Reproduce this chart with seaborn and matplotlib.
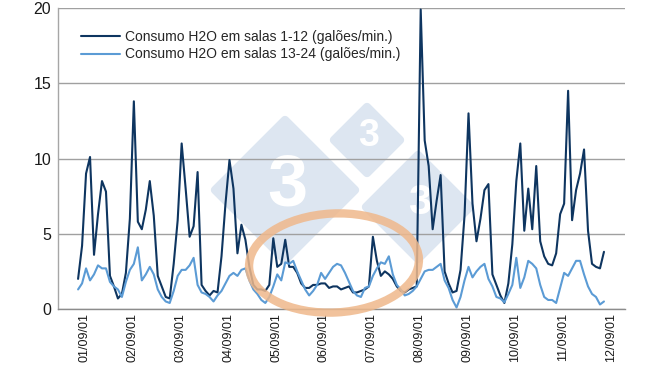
import matplotlib
matplotlib.use('Agg')
import matplotlib.pyplot as plt
from matplotlib.patches import Ellipse, Polygon
from matplotlib.transforms import IdentityTransform
import seaborn as sns
import numpy as np
import pandas as pd

# dias (uma leitura a cada 2 horas)
dias = ['01/09/01', '02/09/01', '03/09/01', '04/09/01', '05/09/01', '06/09/01',
        '07/09/01', '08/09/01', '09/09/01', '10/09/01', '11/09/01', '12/09/01']

rotulo_1_12 = 'Consumo H2O em salas 1-12 (galões/min.)'
rotulo_13_24 = 'Consumo H2O em salas 13-24 (galões/min.)'

salas_1_12 = [
    2.0, 4.2, 9.0, 10.1, 3.6, 6.3, 8.5, 7.8, 2.2, 1.5, 0.7, 1.0,
    2.4, 6.0, 13.8, 5.8, 5.3, 6.6, 8.5, 6.2, 2.2, 1.5, 0.8, 0.7,
    3.0, 5.9, 11.0, 8.0, 4.8, 5.5, 9.1, 1.6, 1.2, 0.9, 1.2, 1.1,
    3.5, 7.0, 9.9, 8.0, 3.7, 5.6, 4.6, 2.8, 1.6, 1.3, 1.3, 1.2,
    1.6, 4.7, 2.8, 3.0, 4.6, 2.8, 2.8, 2.4, 1.7, 1.4, 1.4, 1.6,
    1.6, 1.7, 1.7, 1.4, 1.5, 1.5, 1.3, 1.4, 1.5, 1.1, 1.1, 1.2,
    1.3, 1.5, 4.8, 3.2, 2.2, 2.5, 2.3, 2.0, 1.5, 1.2, 1.1, 1.3,
    1.4, 1.5, 19.9, 11.2, 9.5, 5.3, 7.2, 8.9, 2.5, 1.7, 1.1, 1.2,
    2.6, 6.2, 13.0, 7.0, 4.5, 6.0, 7.9, 8.3, 2.3, 1.6, 0.9, 0.4,
    1.7, 4.3, 8.5, 11.0, 5.2, 8.0, 5.3, 9.5, 4.5, 3.5, 3.0, 2.9,
    3.7, 6.3, 7.0, 14.5, 5.9, 7.9, 9.0, 10.6, 5.2, 3.0, 2.8, 2.7, 3.8,
]

salas_13_24 = [
    1.3, 1.7, 2.7, 1.9, 2.3, 2.9, 2.7, 2.7, 1.8, 1.5, 1.3, 0.8,
    1.8, 2.6, 3.0, 4.1, 1.9, 2.3, 2.8, 2.3, 1.3, 0.8, 0.5, 0.4,
    1.2, 2.2, 2.6, 2.6, 2.9, 3.4, 1.6, 1.1, 1.0, 0.8, 0.5, 0.9,
    1.2, 1.7, 2.2, 2.4, 2.2, 2.6, 2.7, 1.9, 1.3, 1.0, 0.6, 0.4,
    0.8, 1.5, 2.3, 1.9, 3.1, 3.0, 3.2, 2.5, 1.9, 1.3, 0.9, 1.2,
    1.6, 2.4, 2.0, 2.4, 2.8, 3.0, 2.9, 2.4, 1.8, 1.2, 0.9, 0.8,
    1.4, 1.5, 2.2, 2.7, 3.1, 3.0, 3.5, 2.3, 1.6, 1.3, 0.9, 1.0,
    1.2, 1.5, 2.0, 2.5, 2.6, 2.6, 2.8, 3.0, 1.9, 1.4, 0.6, 0.1,
    0.8, 1.9, 2.8, 2.1, 2.5, 2.8, 3.0, 2.0, 1.5, 0.8, 0.7, 0.45,
    1.0, 1.6, 3.4, 1.4, 2.1, 3.2, 3.0, 2.7, 1.6, 0.8, 0.6, 0.6,
    0.4, 1.4, 2.4, 2.2, 2.7, 3.2, 3.2, 2.3, 1.5, 1.0, 0.8, 0.3, 0.5,
]

cor_escura = '#0e3560'
cor_clara = '#5b9bd5'

sns.set_theme(style='white')
plt.rcParams['font.family'] = ['Liberation Sans', 'DejaVu Sans']

n = len(salas_1_12)
df = pd.DataFrame({'dia': np.arange(n) / 12,
                   rotulo_1_12: salas_1_12,
                   rotulo_13_24: salas_13_24})
longo = df.melt(id_vars='dia', var_name='serie', value_name='galoes')

W, H = 650, 366
fig = plt.figure(figsize=(6.5, 3.66), dpi=100)
ax = fig.add_axes([58 / W, 1 - 309 / H, 567 / W, 301 / H])

# marca d'agua (losangos "3") em pixels
def losango(cx, cy, r):
    pts = [(cx - r, H - cy), (cx, H - cy + r), (cx + r, H - cy), (cx, H - cy - r)]
    ax.add_patch(Polygon(pts, closed=True, facecolor='#dde6f1', edgecolor='#dde6f1',
                         linewidth=6, joinstyle='round', transform=IdentityTransform(),
                         clip_on=False, zorder=0.1))

for cx, cy, r, tam in [(285, 190, 70, 52), (367, 140, 33, 27), (418, 207, 52, 30)]:
    losango(cx, cy, r)
    ax.text(cx + 2, H - cy + 4, '3', fontsize=tam, fontweight='bold', color='white',
            ha='center', va='center', transform=IdentityTransform(), zorder=0.2)

sns.lineplot(data=longo, x='dia', y='galoes', hue='serie',
             palette=[cor_escura, cor_clara], linewidth=1.5, ax=ax)

ax.set_xlim(-0.42, 11.44)
ax.set_ylim(0, 20)
ax.set_yticks([0, 5, 10, 15, 20])
ax.set_xticks(np.arange(len(dias)) + 0.14)
ax.set_xticklabels(dias, rotation=90, fontsize=9)
ax.tick_params(axis='y', labelsize=11.5, length=0, pad=5, colors='#1a1a1a')
ax.tick_params(axis='x', length=0, pad=3, colors='#1a1a1a')
ax.set_xlabel('')
ax.set_ylabel('')

ax.grid(axis='y', color='#a0a0a0', linewidth=1)
ax.grid(axis='x', visible=False)
for lado in ['top', 'right']:
    ax.spines[lado].set_visible(False)
ax.spines['left'].set_color('#a6a6a6')
ax.spines['bottom'].set_color('#8c8c8c')
ax.spines['left'].set_linewidth(1)
ax.spines['bottom'].set_linewidth(1)

handles, labels = ax.get_legend_handles_labels()
ax.legend(handles, labels, loc='upper left', bbox_to_anchor=(81 / W, 1 - 30 / H),
          bbox_transform=fig.transFigure, frameon=False, fontsize=10,
          handlelength=2.8, handletextpad=0.4, labelspacing=0.25,
          borderpad=0, borderaxespad=0)

# destaque laranja
ax.add_patch(Ellipse((334, H - 263), 170, 99, angle=3, fill=False,
                     edgecolor='#efb88b', linewidth=6, alpha=0.85,
                     transform=IdentityTransform(), clip_on=False, zorder=5))

fig.savefig('out.png', dpi=100)
